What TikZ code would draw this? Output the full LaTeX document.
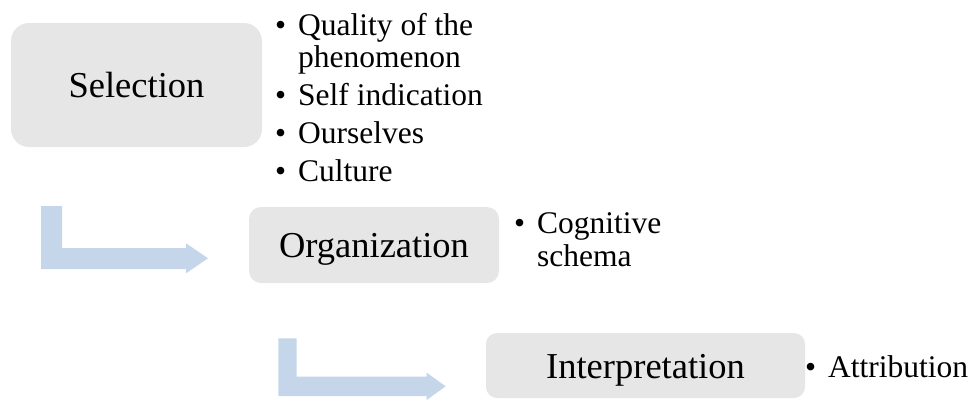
\documentclass[tikz,border=0pt]{standalone}
\usepackage{fontspec}
\setmainfont{Liberation Serif}
\usepackage{xcolor}

\definecolor{stagegray}{HTML}{E6E6E6}
\definecolor{arrowblue}{HTML}{C5D5EA}

\tikzset{
  stagebox/.style={fill=stagegray, draw=none, inner sep=0pt,
    font=\fontsize{36.5}{40}\selectfont, text height=25pt, text depth=0pt},
  itemtext/.style={anchor=base west, inner sep=0pt,
    font=\fontsize{31.5}{34}\selectfont},
  bentarrow/.style={fill=arrowblue, draw=none}
}
\newcommand{\itembullet}{\llap{\textbullet\hspace{12pt}}}

\begin{document}
\begin{tikzpicture}[x=1pt,y=-1pt]
\useasboundingbox (0,0) rectangle (978,400);

% Selection stage
\node[stagebox, minimum width=251pt, minimum height=124pt, rounded corners=18pt] (sel) at (136.5,85) {Selection};
\node[itemtext] (sel1) at (298,35) {\itembullet Quality of the};
\node[itemtext] (sel1b) at (298,67) {phenomenon};
\node[itemtext] (sel2) at (298,105) {\itembullet Self indication};
\node[itemtext] (sel3) at (298,143) {\itembullet Ourselves};
\node[itemtext] (sel4) at (298,181) {\itembullet Culture};

% Organization stage
\node[stagebox, minimum width=250pt, minimum height=76pt, rounded corners=12pt] (org) at (374,245) {Organization};
\node[itemtext] (org1) at (537,233) {\itembullet Cognitive};
\node[itemtext] (org1b) at (537,266) {schema};

% Interpretation stage
\node[stagebox, minimum width=319pt, minimum height=65pt, rounded corners=11pt] (int) at (645.5,365.5) {Interpretation};
\node[itemtext] (int1) at (828,377) {\itembullet Attribution};

% Bent arrows
\fill[bentarrow] (41,206) -- (62,206) -- (62,248) -- (186,248) -- (186,243.3)
  -- (208,258.3) -- (186,273.3) -- (186,269) -- (41,269) -- cycle;
\fill[bentarrow] (278.3,338.3) -- (296.7,338.3) -- (296.7,376.7) -- (426.7,376.7)
  -- (426.7,372.7) -- (445.7,386.3) -- (426.7,400) -- (426.7,396) -- (278.3,396) -- cycle;
\end{tikzpicture}
\end{document}
